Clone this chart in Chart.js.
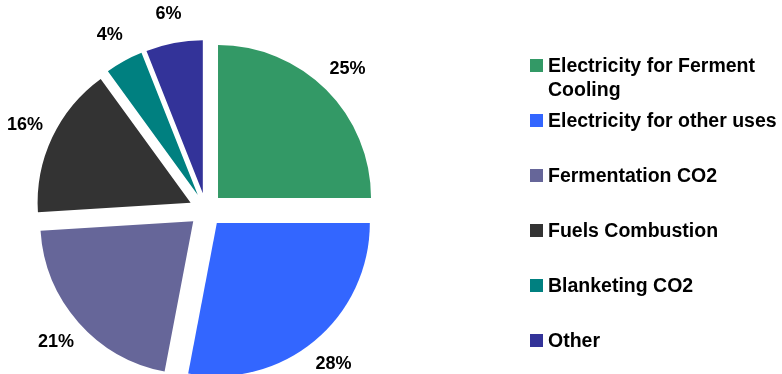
<!DOCTYPE html>
<html>
<head>
<meta charset="utf-8">
<script src="https://cdn.jsdelivr.net/npm/chart.js@4/dist/chart.umd.min.js"></script>
<style>
  body { margin: 0; background: #fff; }
  #wrap { position: relative; width: 782px; height: 374px; overflow: hidden; }
  #emissions { position: absolute; left: 0; top: 0; }
  .item { position: absolute; left: 530px; width: 252px; }
  .box { position: absolute; left: 0; top: 6px; width: 13px; height: 13px; }
  .text { margin-left: 18px; font: bold 19.5px "Liberation Sans", Arial, sans-serif; line-height: 24px; color: #000; }
</style>
</head>
<body>
<div id="wrap">
  <canvas id="emissions" width="782" height="374"></canvas>
  <div id="legend"></div>
</div>
<script>
const sources = ['Electricity for Ferment Cooling', 'Electricity for other uses', 'Fermentation CO2', 'Fuels Combustion', 'Blanketing CO2', 'Other'];
const shares = [25, 28, 21, 16, 4, 6];
const colors = ['#339966', '#3366FF', '#666699', '#333333', '#008080', '#333399'];

// how far each slice is pulled out from the centre
const EXPLODE = 17;

// arc that is shifted outwards without growing its radius
class ExplodedArc extends Chart.ArcElement {
  draw(ctx) {
    const mid = (this.startAngle + this.endAngle) / 2;
    ctx.save();
    ctx.translate(Math.cos(mid) * EXPLODE, Math.sin(mid) * EXPLODE);
    super.draw(ctx);
    ctx.restore();
  }
}
ExplodedArc.id = 'explodedArc';

class ExplodedPie extends Chart.PieController {}
ExplodedPie.id = 'explodedPie';
ExplodedPie.defaults = { dataElementType: 'explodedArc' };

Chart.register(ExplodedArc, ExplodedPie);

const percentLabels = {
  id: 'percentLabels',
  afterDatasetsDraw(chart) {
    const ctx = chart.ctx;
    const values = chart.data.datasets[0].data;
    ctx.save();
    ctx.font = 'bold 18px "Liberation Sans", Arial, sans-serif';
    ctx.fillStyle = '#000';
    ctx.textAlign = 'center';
    ctx.textBaseline = 'middle';
    chart.getDatasetMeta(0).data.forEach((arc, i) => {
      const { x, y, startAngle, endAngle, outerRadius } = arc.getProps(['x', 'y', 'startAngle', 'endAngle', 'outerRadius'], true);
      const mid = (startAngle + endAngle) / 2;
      const d = outerRadius + EXPLODE + 30;
      ctx.fillText(values[i] + '%', x + Math.cos(mid) * d, y + Math.sin(mid) * d);
    });
    ctx.restore();
  }
};

const chart = new Chart(document.getElementById('emissions'), {
  type: 'explodedPie',
  data: {
    labels: sources,
    datasets: [{
      data: shares,
      backgroundColor: colors,
      borderWidth: 0
    }]
  },
  options: {
    responsive: false,
    animation: false,
    layout: { padding: { left: 53, right: 423, top: 57, bottom: 11 } },
    plugins: {
      legend: { display: false },
      tooltip: { enabled: false }
    }
  },
  plugins: [percentLabels]
});

// legend on the right
const legend = document.getElementById('legend');
chart.data.labels.forEach((label, i) => {
  const item = document.createElement('div');
  item.className = 'item';
  item.style.top = (53 + i * 55) + 'px';
  const box = document.createElement('span');
  box.className = 'box';
  box.style.background = chart.data.datasets[0].backgroundColor[i];
  const text = document.createElement('div');
  text.className = 'text';
  text.textContent = label;
  item.appendChild(box);
  item.appendChild(text);
  legend.appendChild(item);
});
</script>
</body>
</html>
